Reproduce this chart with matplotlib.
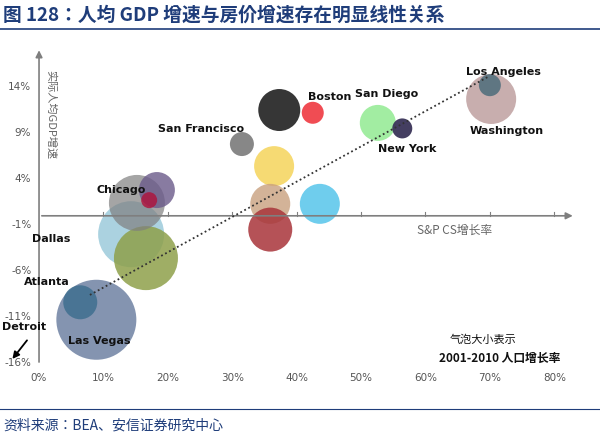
import matplotlib
matplotlib.use("Agg")
import matplotlib.pyplot as plt
from matplotlib import font_manager

names = sorted({f.name for f in font_manager.fontManager.ttflist if 'CJK' in f.name or 'Noto' in f.name})
CJK = next((n for n in ['Noto Sans CJK SC', 'Noto Sans CJK JP', 'Noto Sans CJK TC', 'Noto Sans CJK KR'] if n in names),
           next((n for n in names if 'CJK' in n), 'DejaVu Sans'))
plt.rcParams['font.family'] = ['DejaVu Sans']

house = [8.9, 6.4, 16.6, 14.3, 15.2, 18.3, 17.1, 31.5, 37.3, 36.5, 35.9, 35.9, 43.6, 42.5, 52.6, 56.4, 70.2, 70.0]
gdp = [-11.3, -9.4, -4.6, -2.0, 1.4, 2.8, 1.7, 7.8, 11.5, 5.4, 1.3, -1.5, 1.3, 11.2, 10.1, 9.5, 12.7, 14.2]
pop = [40, 17, 32, 33, 28, 18, 8, 12, 21, 20, 20, 22, 20, 11, 18, 10, 25, 11]
colors = ['#6f82a3', '#3f6f8f', '#8ea04a', '#8fc4d6', '#7f7f7f', '#6b5a8a', '#b0103a', '#7a7a7a',
          '#2b2b2b', '#f5d45a', '#c9a07f', '#a8343a', '#5fc8ec', '#f0424a', '#98ec98', '#3a3358',
          '#c2a5a5', '#5a7380']
alphas = [0.85, 0.85, 0.85, 0.75, 0.7, 0.8, 0.8, 0.9, 0.95, 0.85, 0.8, 0.85, 0.9, 0.95, 0.9, 0.95, 0.9, 0.95]
order = [0, 1, 3, 2, 4, 5, 6, 7, 8, 9, 10, 11, 12, 13, 14, 15, 16, 17]
labels = [("Las Vegas", 4.5, -13.6), ("Atlanta", -2.3, -7.2), ("Dallas", -1.1, -2.5), ("Chicago", 9.0, 2.8),
          ("San Francisco", 18.5, 9.4), ("Boston", 41.8, 12.9), ("San Diego", 49.1, 13.2),
          ("New York", 52.6, 7.3), ("Los Angeles", 66.3, 15.6), ("Washington", 66.8, 9.2),
          ("Detroit", -5.7, -12.1)]
xticks = [0, 10, 20, 30, 40, 50, 60, 70, 80]
yticks = [-16, -11, -6, -1, 4, 9, 14]
trend_x = [7.9, 69.7]
trend_y = [-8.6, 15.1]

fig = plt.figure(figsize=(6, 4.41), dpi=100)
ax = fig.add_axes([0, 0, 1, 1])
ax.set_xlim(-6.06, 87.1)
ax.set_ylim(-24.48, 23.46)
ax.axis('off')

gray = '#7f7f7f'
ax.annotate('', xy=(0, 18.3), xytext=(0, -16.2), arrowprops=dict(arrowstyle='-|>', color=gray, lw=1.2))
ax.annotate('', xy=(83.3, 0), xytext=(0, 0), arrowprops=dict(arrowstyle='-|>', color=gray, lw=1.2))
for t in xticks:
    ax.text(t, -17.6, f"{t}%", ha='center', va='center', fontsize=7.5, color='#555555')
    if t > 0:
        ax.plot([t, t], [0, 0.4], color=gray, lw=0.8)
for t in yticks:
    ax.text(-1.2, t, f"{t}%", ha='right', va='center', fontsize=7.5, color='#555555')

for i in order:
    s = (2 * pop[i] * 0.72) ** 2
    ax.scatter(house[i], gdp[i], s=s, color=colors[i], alpha=alphas[i], edgecolors='none', zorder=2)

ax.plot(trend_x, trend_y, linestyle=(0, (1, 1.5)), color='#333333', lw=1.3, zorder=3)

for name, x, y in labels:
    ax.text(x, y, name, fontsize=8, fontweight='bold', color='#111111', ha='left', va='center', zorder=4)
ax.annotate('', xy=(-4.4, -15.8), xytext=(-1.6, -13.3),
            arrowprops=dict(arrowstyle='-|>', color='black', lw=1.3))

ax.text(1.8, 11.0, '实际人均GDP增速', rotation=-90, fontsize=8, color='#666666', ha='center', va='center', family=CJK)
ax.text(64.5, -1.6, 'S&P CS增长率', fontsize=8.5, color='#666666', ha='center', va='center', family=CJK)
ax.text(69, -13.5, '气泡大小表示', fontsize=8, color='#111111', ha='center', va='center', family=CJK)
ax.text(71.5, -15.5, '2001-2010 人口增长率', fontsize=8.5, fontweight='bold', color='#111111', ha='center', va='center', family=CJK)

fig.text(0.005, 0.965, '图 128：人均 GDP 增速与房价增速存在明显线性关系', fontsize=13.5, fontweight='bold',
         color='#1f3d7a', ha='left', va='center', family=CJK)
fig.add_artist(plt.Line2D([0, 1], [0.935, 0.935], color='#1f3d7a', lw=1.2))
fig.add_artist(plt.Line2D([0, 1], [0.072, 0.072], color='#1f3d7a', lw=0.8))
fig.text(0.005, 0.035, '资料来源：BEA、安信证券研究中心', fontsize=10, style='italic',
         color='#1f3d7a', ha='left', va='center', family=CJK)

fig.savefig('out.png', dpi=100)
